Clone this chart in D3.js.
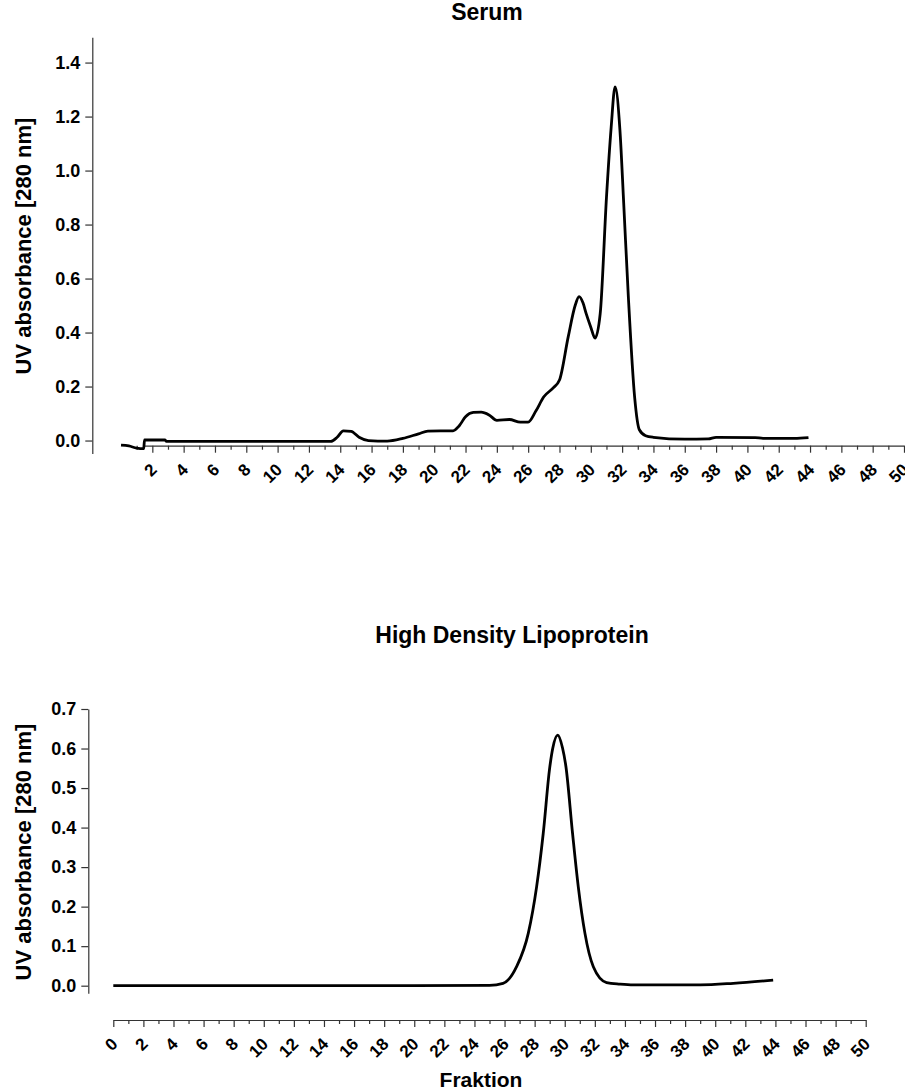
<!DOCTYPE html>
<html>
<head>
<meta charset="utf-8">
<script src="https://cdn.jsdelivr.net/npm/d3@7"></script>
<style>
  body { margin: 0; background: #fff; }
  text { font-family: "Liberation Sans", Arial, sans-serif; font-weight: bold; fill: #000; }
  .axis path, .axis line { stroke: #333; stroke-width: 1.2; }
</style>
</head>
<body>
<svg id="chart" width="905" height="1090"></svg>
<script>
// serum chromatogram (fraction, absorbance)
var serumFraction = [0, 0.5, 1.0, 1.45, 1.5, 2.8, 2.9, 13.4, 13.8, 14.2, 14.7, 15.2, 15.8, 17.0, 18.0, 19.0, 19.6,
  21.2, 21.6, 22.0, 22.5, 23.0, 23.5, 24.0, 24.8, 25.5, 26.0, 26.5, 27.0, 27.6, 28.0, 28.56, 29.0, 29.25, 29.5,
  29.7, 30.0, 30.27, 30.6, 31.0, 31.3, 31.55, 31.86, 32.1, 32.4, 32.8, 33.1, 33.5, 34.0, 36.0, 37.5, 38.0, 40.5,
  41.0, 43.0, 43.9];
var serumValue = [-0.017, -0.020, -0.028, -0.030, 0.002, 0.002, -0.003, -0.003, 0.012, 0.036, 0.034, 0.012, 0.0,
  -0.002, 0.008, 0.025, 0.035, 0.036, 0.055, 0.088, 0.104, 0.105, 0.095, 0.075, 0.078, 0.068, 0.068, 0.11, 0.162,
  0.195, 0.224, 0.385, 0.50, 0.533, 0.51, 0.471, 0.42, 0.379, 0.47, 0.90, 1.16, 1.31, 1.15, 0.88, 0.53, 0.16,
  0.04, 0.018, 0.012, 0.005, 0.006, 0.012, 0.011, 0.008, 0.008, 0.011];

// hdl chromatogram
var hdlFraction = [0, 10, 20, 25.0, 25.9, 26.8, 27.58, 28.13, 28.57, 29.0, 29.2, 29.53, 29.85, 30.08, 30.52, 30.9,
  31.34, 31.9, 32.78, 33.67, 34.55, 39.0, 41.2, 43.85];
var hdlValue = [0, 0, 0, 0.001, 0.006, 0.048, 0.133, 0.25, 0.385, 0.551, 0.600, 0.634, 0.602, 0.554, 0.385, 0.25,
  0.133, 0.048, 0.008, 0.004, 0.002, 0.002, 0.006, 0.014];

// tick values
var serumYTicks = [0, 0.2, 0.4, 0.6, 0.8, 1.0, 1.2, 1.4];
var hdlYTicks = [0, 0.1, 0.2, 0.3, 0.4, 0.5, 0.6, 0.7];
var serumXTicks = d3.range(2, 51, 2);
var hdlXTicks = d3.range(0, 51, 2);
var minorTicks = d3.range(1, 50, 2);

var svg = d3.select("#chart");

function drawPanel(cfg) {
  var data = cfg.fraction.map(function(f, i) { return {x: f, y: cfg.value[i]}; });

  // scales
  var xScale = d3.scaleLinear().domain(cfg.xDomain).range(cfg.xRange);
  var yScale = d3.scaleLinear().domain(cfg.yDomain).range(cfg.yRange);

  // y axis
  var yAxis = d3.axisLeft(yScale)
    .tickValues(cfg.yTicks)
    .tickSize(7)
    .tickSizeOuter(0)
    .tickPadding(5)
    .tickFormat(d3.format(".1f"));
  var gy = svg.append("g")
    .attr("class", "left axis")
    .attr("transform", "translate(" + cfg.yAxisX + ",0)")
    .call(yAxis);
  gy.selectAll("text").attr("font-size", "18px");

  // x axis, major ticks
  var xAxis = d3.axisBottom(xScale)
    .tickValues(cfg.xTicks)
    .tickSize(7)
    .tickSizeOuter(0);
  var gx = svg.append("g")
    .attr("class", "bottom axis")
    .attr("transform", "translate(0," + cfg.xAxisY + ")")
    .call(xAxis);
  gx.selectAll("text")
    .attr("font-size", "17px")
    .attr("x", 0).attr("y", 0).attr("dy", null)
    .attr("text-anchor", "end")
    .attr("transform", "translate(5,25) rotate(-45)");

  // x axis, minor ticks
  var minorAxis = d3.axisBottom(xScale)
    .tickValues(minorTicks)
    .tickSize(4)
    .tickSizeOuter(0)
    .tickFormat("");
  var gm = svg.append("g")
    .attr("class", "bottom axis")
    .attr("transform", "translate(0," + cfg.xAxisY + ")")
    .call(minorAxis);
  gm.select(".domain").remove();

  // line
  var line = d3.line()
    .x(function(d) { return xScale(d.x); })
    .y(function(d) { return yScale(d.y); })
    .curve(d3.curveMonotoneX);
  svg.append("path")
    .datum(data)
    .attr("fill", "none")
    .attr("stroke", "#000")
    .attr("stroke-width", 2.8)
    .attr("stroke-linejoin", "round")
    .attr("d", line);

  // title
  svg.append("text")
    .attr("x", cfg.titleX)
    .attr("y", cfg.titleY)
    .attr("font-size", "23px")
    .attr("text-anchor", "middle")
    .text(cfg.title);

  // y label
  svg.append("text")
    .attr("transform", "translate(" + cfg.yLabelX + "," + cfg.yLabelY + ") rotate(-90)")
    .attr("font-size", "22px")
    .attr("text-anchor", "middle")
    .text("UV absorbance [280 nm]");
}

// serum panel
drawPanel({
  fraction: serumFraction, value: serumValue,
  xDomain: [1.5, 50], xRange: [144.5, 904],
  yDomain: [-0.048, 1.494], yRange: [453.5, 37.2],
  yTicks: serumYTicks, xTicks: serumXTicks,
  yAxisX: 92.3, xAxisY: 445.7,
  title: "Serum", titleX: 487, titleY: 20,
  yLabelX: 31, yLabelY: 246
});

// hdl panel
drawPanel({
  fraction: hdlFraction, value: hdlValue,
  xDomain: [0, 50], xRange: [113.3, 865.7],
  yDomain: [-0.019, 0.7], yRange: [993.2, 709],
  yTicks: hdlYTicks, xTicks: hdlXTicks,
  yAxisX: 88.3, xAxisY: 1020,
  title: "High Density Lipoprotein", titleX: 512, titleY: 643,
  yLabelX: 30.5, yLabelY: 852
});

// x label
svg.append("text")
  .attr("x", 481)
  .attr("y", 1087)
  .attr("font-size", "21px")
  .attr("text-anchor", "middle")
  .text("Fraktion");
</script>
</body>
</html>
